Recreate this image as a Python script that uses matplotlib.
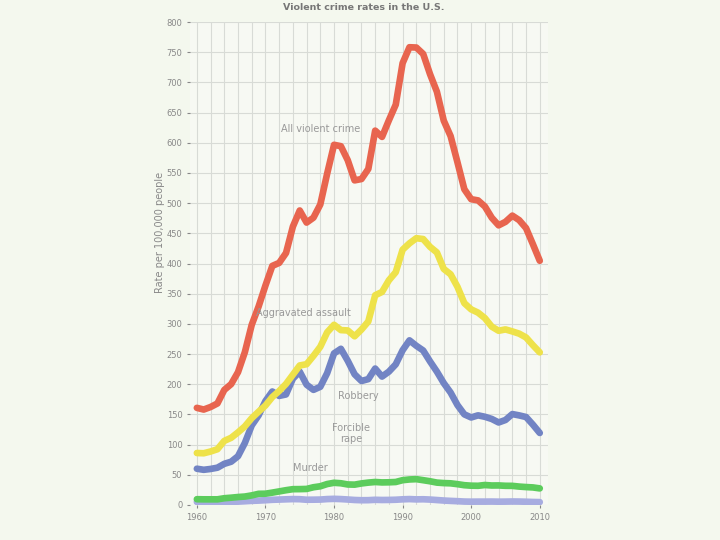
import matplotlib
matplotlib.use("Agg")
import matplotlib.pyplot as plt
import numpy as np

years = list(range(1960, 2011))

violent = [160.9, 158.1, 162.3, 168.2, 190.6, 200.2, 220.0, 253.2, 298.4, 328.7,
           363.5, 396.0, 401.0, 417.4, 461.1, 487.8, 467.8, 475.9, 497.8, 548.9,
           596.6, 594.3, 571.1, 537.7, 539.9, 556.6, 620.1, 609.7, 637.2, 663.1,
           731.8, 758.2, 757.7, 747.1, 713.6, 684.5, 636.6, 611.0, 567.6, 523.0,
           506.5, 504.5, 494.4, 475.8, 463.2, 469.0, 479.3, 471.8, 458.6, 431.9,
           404.5]
assault = [86.1, 85.7, 88.6, 92.4, 106.2, 111.3, 120.3, 130.2, 143.8, 154.5,
           164.8, 178.8, 188.8, 200.5, 215.8, 231.1, 233.2, 247.0, 262.1, 286.0,
           298.5, 289.7, 289.1, 279.4, 290.6, 304.0, 347.4, 352.9, 372.2, 385.6,
           422.9, 433.4, 441.9, 440.5, 427.6, 418.3, 391.0, 382.1, 361.4, 334.3,
           324.0, 318.6, 309.5, 295.4, 288.6, 290.8, 287.5, 283.8, 277.5, 264.7,
           252.8]
robbery = [60.1, 58.3, 59.7, 61.8, 68.2, 71.7, 80.8, 102.8, 131.8, 148.4,
           172.1, 188.0, 180.7, 183.1, 209.3, 220.8, 199.3, 190.7, 195.8, 218.4,
           251.1, 258.7, 238.9, 216.5, 205.4, 208.5, 226.0, 212.7, 220.9, 233.0,
           256.3, 272.7, 263.7, 255.9, 237.8, 220.9, 201.9, 186.2, 165.5, 150.1,
           145.0, 148.5, 146.1, 142.5, 136.7, 140.8, 150.6, 148.4, 145.7, 133.1,
           119.3]
rape = [9.6, 9.4, 9.4, 9.4, 11.2, 12.1, 13.2, 14.0, 15.9, 18.5,
        18.7, 20.5, 22.5, 24.5, 26.2, 26.3, 26.6, 29.4, 31.0, 34.7,
        36.8, 36.0, 34.0, 33.7, 35.7, 37.1, 38.1, 37.4, 37.6, 38.1,
        41.1, 42.3, 42.8, 41.1, 39.3, 37.1, 36.3, 35.9, 34.5, 32.8,
        32.0, 31.8, 33.1, 32.3, 32.4, 31.8, 31.7, 30.5, 29.7, 29.1,
        27.5]
murder = [5.1, 4.8, 4.6, 4.6, 4.9, 5.1, 5.6, 6.2, 6.9, 7.3,
          7.9, 8.6, 9.0, 9.4, 9.8, 9.6, 8.7, 8.8, 9.0, 9.8,
          10.2, 9.8, 9.1, 8.3, 7.9, 8.0, 8.6, 8.3, 8.4, 8.7,
          9.4, 9.8, 9.3, 9.5, 9.0, 8.2, 7.4, 6.8, 6.3, 5.7,
          5.5, 5.6, 5.6, 5.7, 5.5, 5.6, 5.8, 5.7, 5.4, 5.0,
          4.8]

x_ticks = [1960, 1970, 1980, 1990, 2000, 2010]
y_ticks = list(range(0, 801, 50))

fig = plt.figure(figsize=(7.2, 5.4), dpi=100, facecolor="#f4f8ee")
ax = fig.add_axes([190/720, 1 - 505/540, (548-190)/720, (505-22)/540])
ax.set_facecolor("#f7f9f3")

lw = 4.8
ax.plot(years, murder, color="#a7ace0", lw=lw, solid_capstyle="round", solid_joinstyle="round")
ax.plot(years, rape, color="#5ccc5c", lw=lw, solid_capstyle="round", solid_joinstyle="round")
ax.plot(years, robbery, color="#7284c4", lw=lw, solid_capstyle="round", solid_joinstyle="round")
ax.plot(years, assault, color="#eee24a", lw=lw, solid_capstyle="round", solid_joinstyle="round")
ax.plot(years, violent, color="#e8654f", lw=lw, solid_capstyle="round", solid_joinstyle="round")

ax.set_xlim(1959, 2011.2)
ax.set_ylim(0, 800)
ax.set_xticks(x_ticks)
ax.set_xticks(range(1960, 2011, 2), minor=True)
ax.set_yticks(y_ticks)
ax.grid(True, which="both", color="#d8dbd6", lw=0.8)
ax.set_axisbelow(True)
ax.tick_params(axis="both", labelsize=6, colors="#888888", length=2)
ax.tick_params(axis="x", which="minor", length=0)
for s in ax.spines.values():
    s.set_visible(False)

tc = "#999999"
ax.text(1978.0, 622, "All violent crime", fontsize=7, color=tc, ha="center", va="center")
ax.text(1975.5, 318, "Aggravated assault", fontsize=7, color=tc, ha="center", va="center")
ax.text(1983.5, 180, "Robbery", fontsize=7, color=tc, ha="center", va="center")
ax.text(1982.5, 118, "Forcible\nrape", fontsize=7, color=tc, ha="center", va="center",
        linespacing=1.1)
ax.text(1976.5, 62, "Murder", fontsize=7, color=tc, ha="center", va="center")

fig.text(364/720, 1 - 8/540, "Violent crime rates in the U.S.", fontsize=6.8,
         fontweight="bold", color="#777777", ha="center", va="center")
fig.text(160/720, 1 - 232/540, "Rate per 100,000 people", fontsize=7,
         color="#888888", rotation=90, ha="center", va="center")

fig.savefig("out.png", dpi=100, facecolor=fig.get_facecolor())
